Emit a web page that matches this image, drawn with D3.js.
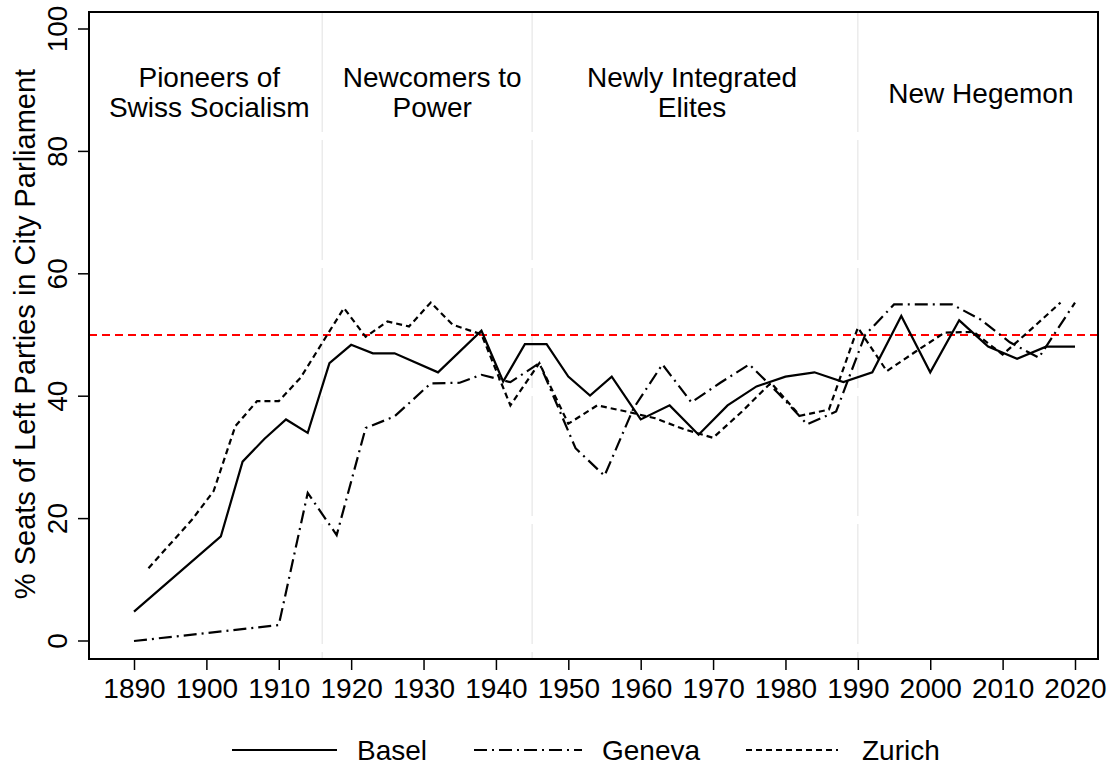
<!DOCTYPE html>
<html>
<head>
<meta charset="utf-8">
<script src="https://cdn.jsdelivr.net/npm/d3@7"></script>
<style>
  body { margin: 0; background: #fff; }
  text { font-family: "Liberation Sans", Arial, sans-serif; fill: #000; }
</style>
</head>
<body>
<div id="chart"></div>
<script>
// Data
const baselYears = [1890, 1902, 1905, 1908, 1911, 1914, 1917, 1920, 1923, 1926, 1932, 1938, 1941, 1944, 1947, 1950, 1953, 1956, 1960, 1964, 1968, 1972, 1976, 1980, 1984, 1988, 1992, 1996, 2000, 2004, 2008, 2012, 2016, 2020];
const baselValues = [4.8, 17.1, 29.3, 33.0, 36.2, 34.0, 45.4, 48.4, 47.0, 47.0, 43.9, 50.7, 42.4, 48.5, 48.5, 43.2, 40.1, 43.2, 36.2, 38.5, 33.7, 38.5, 41.6, 43.2, 43.9, 42.3, 43.9, 53.1, 43.9, 52.4, 48.1, 46.1, 48.1, 48.1];

const genevaYears = [1890, 1910, 1914, 1918, 1922, 1926, 1931, 1935, 1938, 1942, 1946, 1951, 1955, 1959, 1963, 1967, 1971, 1975, 1979, 1983, 1987, 1991, 1995, 1999, 2003, 2007, 2011, 2015, 2020];
const genevaValues = [0.0, 2.6, 24.2, 17.3, 34.8, 36.7, 42.1, 42.2, 43.5, 42.3, 45.4, 31.5, 27.0, 38.0, 45.2, 39.0, 42.2, 45.2, 40.5, 35.4, 37.5, 50.0, 55.0, 55.0, 55.0, 52.5, 48.8, 46.3, 55.3];

const zurichYears = [1892, 1898, 1901, 1904, 1907, 1910, 1913, 1919, 1922, 1925, 1928, 1931, 1934, 1938, 1942, 1946, 1950, 1954, 1958, 1962, 1966, 1970, 1974, 1978, 1982, 1986, 1990, 1994, 1998, 2002, 2006, 2010, 2014, 2018];
const zurichValues = [11.9, 19.8, 24.5, 35.1, 39.2, 39.2, 43.0, 54.4, 49.7, 52.2, 51.4, 55.3, 51.7, 50.1, 38.5, 45.4, 35.5, 38.5, 37.5, 36.4, 34.6, 33.2, 37.5, 42.2, 36.8, 37.8, 51.2, 44.1, 47.3, 50.4, 50.5, 46.8, 51.0, 55.3];

const xTicks = [1890, 1900, 1910, 1920, 1930, 1940, 1950, 1960, 1970, 1980, 1990, 2000, 2010, 2020];
const yTicks = [0, 20, 40, 60, 80, 100];
const periodBreaks = [1916, 1945, 1990];
const periodLabels = [
  { year: 1900.4, lines: ["Pioneers of", "Swiss Socialism"] },
  { year: 1931.2, lines: ["Newcomers to", "Power"] },
  { year: 1967.1, lines: ["Newly Integrated", "Elites"] },
  { year: 2007, lines: ["New Hegemon"] }
];
const majorityLine = 50;

// Series table built from the arrays above
const series = [
  { name: "Basel", years: baselYears, values: baselValues, dash: null },
  { name: "Geneva", years: genevaYears, values: genevaValues, dash: "13,5,2,5" },
  { name: "Zurich", years: zurichYears, values: zurichValues, dash: "6,4" }
];

// SVG dimensions
const svgWidth = 1112;
const svgHeight = 769;
const frame = { left: 89, top: 12, right: 1098, bottom: 659 };

const svg = d3.select("#chart")
  .append("svg")
  .attr("width", svgWidth)
  .attr("height", svgHeight);

// Scales
const xScale = d3.scaleLinear()
  .domain([1890, 2020])
  .range([134, 1075]);

const yScale = d3.scaleLinear()
  .domain([0, 100])
  .range([641, 29]);

// Light period separators
svg.selectAll(".sep")
  .data(periodBreaks)
  .enter()
  .append("line")
  .attr("x1", d => xScale(d))
  .attr("x2", d => xScale(d))
  .attr("y1", frame.top)
  .attr("y2", frame.bottom)
  .attr("stroke", "#e6e6e6")
  .attr("stroke-width", 1.2)
  .attr("stroke-dasharray", "120,8");

// Majority line at 50%
svg.append("line")
  .attr("x1", frame.left)
  .attr("x2", frame.right)
  .attr("y1", yScale(majorityLine))
  .attr("y2", yScale(majorityLine))
  .attr("stroke", "#f00")
  .attr("stroke-width", 2)
  .attr("stroke-dasharray", "8,5");

// Lines
const line = d3.line()
  .x(d => xScale(d[0]))
  .y(d => yScale(d[1]));

series.forEach(s => {
  const pts = s.years.map((y, i) => [y, s.values[i]]);
  svg.append("path")
    .datum(pts)
    .attr("d", line)
    .attr("fill", "none")
    .attr("stroke", "#000")
    .attr("stroke-width", 2.2)
    .attr("stroke-linejoin", "miter")
    .attr("stroke-dasharray", s.dash);
});

// Frame
svg.append("rect")
  .attr("x", frame.left)
  .attr("y", frame.top)
  .attr("width", frame.right - frame.left)
  .attr("height", frame.bottom - frame.top)
  .attr("fill", "none")
  .attr("stroke", "#000")
  .attr("stroke-width", 2);

// X axis
const xAxis = svg.append("g")
  .attr("transform", `translate(0, ${frame.bottom})`)
  .call(d3.axisBottom(xScale).tickValues(xTicks).tickFormat(d3.format("d")).tickSize(11).tickPadding(8));
xAxis.select(".domain").remove();
xAxis.selectAll("line").attr("stroke", "#000").attr("stroke-width", 1.5);
xAxis.selectAll("text")
  .style("font-size", "28px")
  .style("font-family", "'Liberation Sans', Arial, sans-serif")
  .attr("fill", "#000");

// Y axis
const yAxis = svg.append("g")
  .attr("transform", `translate(${frame.left}, 0)`)
  .call(d3.axisLeft(yScale).tickValues(yTicks).tickSize(11).tickPadding(0));
yAxis.select(".domain").remove();
yAxis.selectAll("line").attr("stroke", "#000").attr("stroke-width", 1.5);
yAxis.selectAll("text")
  .attr("x", 0)
  .attr("dy", 0)
  .attr("transform", d => `translate(-22, ${yScale(d)}) rotate(-90)`)
  .attr("y", null)
  .style("text-anchor", "middle")
  .style("font-size", "28px")
  .style("font-family", "'Liberation Sans', Arial, sans-serif")
  .attr("fill", "#000");
// axisLeft sets each tick group's translate already, so undo the y part
yAxis.selectAll(".tick").attr("transform", "translate(0,0)");
yAxis.selectAll(".tick line")
  .attr("y1", d => yScale(d))
  .attr("y2", d => yScale(d));

// Y axis title
svg.append("text")
  .attr("transform", `translate(35, ${yScale(50) - 1}) rotate(-90)`)
  .style("text-anchor", "middle")
  .style("font-size", "29px")
  .text("% Seats of Left Parties in City Parliament");

// Period labels
periodLabels.forEach(p => {
  const t = svg.append("text")
    .attr("x", xScale(p.year))
    .attr("y", p.lines.length === 1 ? 103 : 87)
    .style("text-anchor", "middle")
    .style("font-size", "28px");
  p.lines.forEach((l, i) => {
    t.append("tspan")
      .attr("x", xScale(p.year))
      .attr("dy", i === 0 ? 0 : 30)
      .text(l);
  });
});

// Legend
const legendPos = [
  { x1: 232, x2: 337, tx: 357 },
  { x1: 474, x2: 582, tx: 602 },
  { x1: 746, x2: 838, tx: 862 }
];
series.forEach((s, i) => {
  const p = legendPos[i];
  svg.append("line")
    .attr("x1", p.x1)
    .attr("x2", p.x2)
    .attr("y1", 750)
    .attr("y2", 750)
    .attr("stroke", "#000")
    .attr("stroke-width", 2.2)
    .attr("stroke-dasharray", s.dash);
  svg.append("text")
    .attr("x", p.tx)
    .attr("y", 760)
    .style("font-size", "28px")
    .text(s.name);
});
</script>
</body>
</html>
